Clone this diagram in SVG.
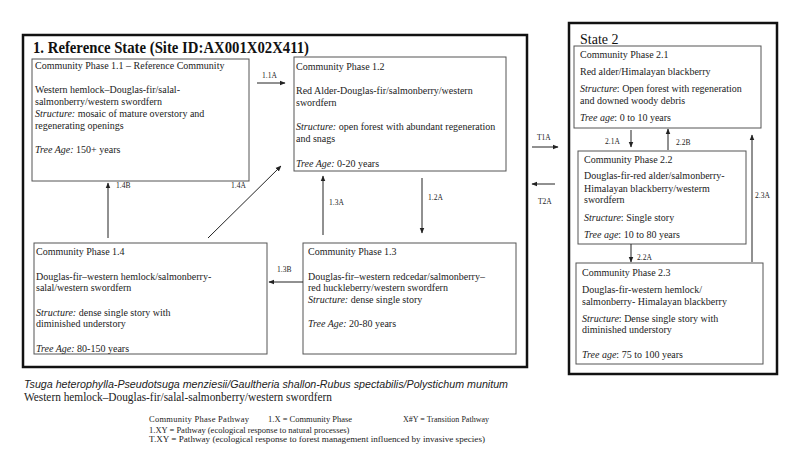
<svg xmlns="http://www.w3.org/2000/svg" width="800" height="450" viewBox="0 0 800 450">
<style>
.state{fill:none;stroke:#111;stroke-width:2.5}
.box{fill:#fff;stroke:#555;stroke-width:1}
.t{font-family:"Liberation Serif","Times New Roman",serif;font-size:10px;fill:#222}
.i{font-style:italic}
.lbl{font-family:"Liberation Serif","Times New Roman",serif;font-size:7.5px;fill:#222}
.title{font-family:"Liberation Serif","Times New Roman",serif;font-weight:bold;font-size:16px;fill:#111}
.st2{font-family:"Liberation Serif","Times New Roman",serif;font-size:14px;fill:#111}
.con{fill:none;stroke:#222;stroke-width:1;marker-end:url(#ah)}
.leg{font-family:"Liberation Serif","Times New Roman",serif;font-size:8.5px;fill:#222}
</style>
<defs>
<marker id="ah" viewBox="0 0 10 10" refX="9" refY="5" markerWidth="6" markerHeight="6" orient="auto" markerUnits="userSpaceOnUse">
<path d="M0,1 L10,5 L0,9 Z" fill="#222"/>
</marker>
</defs>
<rect width="800" height="450" fill="#fff"/>

<g id="state1">
<rect class="state" x="23" y="35" width="504" height="332"/>
<text class="title" x="33" y="53" textLength="276" lengthAdjust="spacingAndGlyphs">1. Reference State (Site ID:AX001X02X411)</text>
</g>

<g id="state2">
<rect class="state" x="569" y="23" width="208" height="351"/>
<text class="st2" x="580" y="44">State 2</text>
</g>

<g id="cp11">
<rect class="box" x="32" y="59" width="217" height="122"/>
<text class="t" x="35" y="69">Community  Phase 1.1 – Reference  Community</text>
<text class="t" x="35" y="93">Western hemlock–Douglas-fir/salal-</text>
<text class="t" x="35" y="105">salmonberry/western  swordfern</text>
<text class="t" x="35" y="117"><tspan class="i">Structure:</tspan> mosaic  of mature  overstory  and</text>
<text class="t" x="35" y="129">regenerating  openings</text>
<text class="t" x="35" y="153"><tspan class="i">Tree Age:</tspan> 150+ years</text>
</g>

<g id="cp12">
<rect class="box" x="294" y="57" width="212" height="114"/>
<text class="t" x="296" y="70">Community  Phase 1.2</text>
<text class="t" x="296" y="94">Red Alder-Douglas-fir/salmonberry/western</text>
<text class="t" x="296" y="106">swordfern</text>
<text class="t" x="296" y="130"><tspan class="i">Structure:</tspan> open forest with  abundant  regeneration</text>
<text class="t" x="296" y="142">and snags</text>
<text class="t" x="296" y="167"><tspan class="i">Tree Age:</tspan> 0-20 years</text>
</g>

<g id="cp13">
<rect class="box" x="303" y="243" width="213" height="111"/>
<text class="t" x="308" y="255">Community  Phase 1.3</text>
<text class="t" x="308" y="280">Douglas-fir–western  redcedar/salmonberry–</text>
<text class="t" x="308" y="291">red huckleberry/western  swordfern</text>
<text class="t" x="308" y="303"><tspan class="i">Structure:</tspan> dense single  story</text>
<text class="t" x="308" y="327"><tspan class="i">Tree Age:</tspan> 20-80 years</text>
</g>

<g id="cp14">
<rect class="box" x="34" y="243" width="233" height="111"/>
<text class="t" x="36" y="255">Community  Phase 1.4</text>
<text class="t" x="36" y="280">Douglas-fir–western  hemlock/salmonberry-</text>
<text class="t" x="36" y="291">salal/western  swordfern</text>
<text class="t" x="36" y="316"><tspan class="i">Structure:</tspan> dense single  story with</text>
<text class="t" x="36" y="327">diminished  understory</text>
<text class="t" x="36" y="352"><tspan class="i">Tree Age:</tspan> 80-150 years</text>
</g>

<g id="cp21">
<rect class="box" x="574" y="46" width="187" height="82"/>
<text class="t" x="580" y="58">Community  Phase 2.1</text>
<text class="t" x="580" y="75">Red alder/Himalayan  blackberry</text>
<text class="t" x="580" y="92"><tspan class="i">Structure</tspan>: Open forest with regeneration</text>
<text class="t" x="580" y="104">and downed woody debris</text>
<text class="t" x="580" y="121"><tspan class="i">Tree age</tspan>: 0 to 10 years</text>
</g>

<g id="cp22">
<rect class="box" x="578" y="151" width="168" height="93"/>
<text class="t" x="584" y="163">Community  Phase 2.2</text>
<text class="t" x="584" y="179">Douglas-fir-red  alder/salmonberry-</text>
<text class="t" x="584" y="192">Himalayan  blackberry/westerm</text>
<text class="t" x="584" y="203">swordfern</text>
<text class="t" x="584" y="221"><tspan class="i">Structure</tspan>: Single  story</text>
<text class="t" x="584" y="238"><tspan class="i">Tree age</tspan>: 10 to 80 years</text>
</g>

<g id="cp23">
<rect class="box" x="576" y="263" width="187" height="101"/>
<text class="t" x="582" y="276">Community  Phase 2.3</text>
<text class="t" x="582" y="293">Douglas-fir-western  hemlock/</text>
<text class="t" x="582" y="305">salmonberry-  Himalayan  blackberry</text>
<text class="t" x="582" y="322"><tspan class="i">Structure</tspan>: Dense single  story with</text>
<text class="t" x="582" y="333">diminished  understory</text>
<text class="t" x="582" y="358"><tspan class="i">Tree age</tspan>: 75 to 100 years</text>
</g>

<g id="connectors">
<path class="con" d="M257,83 H285"/>
<path class="con" d="M208,238 L281,166"/>
<path class="con" d="M108,238 V183"/>
<path class="con" d="M323,235 V176"/>
<path class="con" d="M422,178 V233"/>
<path class="con" d="M303,282 H269"/>
<path class="con" d="M532,147 H558"/>
<path class="con" d="M555,184 H532"/>
<path class="con" d="M631,130 V147"/>
<path class="con" d="M668,150 V129"/>
<path class="con" d="M631,244 V262"/>
<path class="con" d="M752,262 V135"/>
<text class="lbl" x="262" y="78">1.1A</text>
<text class="lbl" x="231" y="188">1.4A</text>
<text class="lbl" x="116" y="188">1.4B</text>
<text class="lbl" x="329" y="205">1.3A</text>
<text class="lbl" x="428" y="200">1.2A</text>
<text class="lbl" x="277" y="272">1.3B</text>
<text class="lbl" x="537" y="140">T1A</text>
<text class="lbl" x="538" y="204">T2A</text>
<text class="lbl" x="605" y="144">2.1A</text>
<text class="lbl" x="676" y="145">2.2B</text>
<text class="lbl" x="637" y="260">2.2A</text>
<text class="lbl" x="755" y="198">2.3A</text>
</g>

<g id="legend">
<text x="24" y="388" font-family="'Liberation Sans',Arial,sans-serif" font-style="italic" font-size="11.5" fill="#222" textLength="484" lengthAdjust="spacingAndGlyphs">Tsuga heterophylla-Pseudotsuga menziesii/Gaultheria shallon-Rubus spectabilis/Polystichum munitum</text>
<text x="24" y="401" font-family="'Liberation Serif','Times New Roman',serif" font-size="11.5" fill="#222" textLength="308" lengthAdjust="spacingAndGlyphs">Western hemlock–Douglas-fir/salal-salmonberry/western  swordfern</text>
<text class="leg" x="149" y="422" textLength="100" lengthAdjust="spacing">Community  Phase Pathway</text>
<text class="leg" x="268" y="422">1.X = Community  Phase</text>
<text class="leg" x="403" y="422" textLength="86" lengthAdjust="spacingAndGlyphs">X#Y = Transition  Pathway</text>
<text class="leg" x="149" y="433">1.XY = Pathway (ecological response to natural processes)</text>
<text class="leg" x="149" y="442" textLength="336" lengthAdjust="spacingAndGlyphs">T.XY = Pathway (ecological response to forest management influenced  by invasive species)</text>
</g>
</svg>
